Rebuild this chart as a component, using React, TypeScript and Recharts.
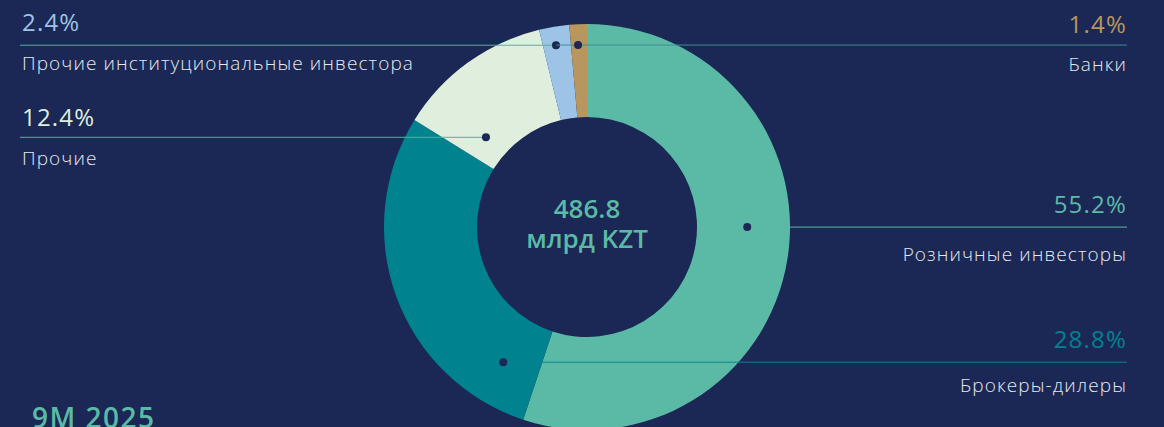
import React from "react";
import { PieChart, Pie, Cell } from "recharts";

// Shares of trading volume by investor type, 9M 2025
const categories = [
  "Розничные инвесторы",
  "Брокеры-дилеры",
  "Прочие",
  "Прочие институциональные инвестора",
  "Банки",
];
const shares = [55.2, 28.8, 12.4, 2.4, 1.4];
const shareLabels = ["55.2%", "28.8%", "12.4%", "2.4%", "1.4%"];
const totalLabel = ["486.8", "млрд KZT"];
const periodLabel = "9M 2025";

const COLORS = ["#5bbaa5", "#00838f", "#dfeedd", "#9dc3e6", "#b8965e"];
const LINE_COLORS = ["#5bbaa5", "#0a8591", "#4fb3a0", "#4fb3a0", "#3f8f93"];
const BG = "#1b2754";
const FONT = "'Open Sans', 'Noto Sans', sans-serif";

const W = 1164;
const H = 427;
const CX = 587;
const CY = 227;
const LEFT_X = 20;
const RIGHT_X = 1127;

// annotation layout: dot position inside its slice (f = along the arc, t = across the ring), text side
const labelLayout = [
  { f: 0.454, t: 0.54, side: "right", pctDy: -14, nameDy: 34, lead: 0 },
  { f: 0.13, t: 0.527, side: "right", pctDy: -14, nameDy: 30, lead: 0 },
  { f: 0.22, t: 0.27, side: "left", pctDy: -11, nameDy: 28, lead: 0 },
  { f: 0.46, t: 0.8, side: "left", pctDy: -14, nameDy: 25, lead: 0 },
  { f: 0.44, t: 0.776, side: "right", pctDy: -12, nameDy: 26, lead: 22 },
];

const data = categories.map((name, i) => ({ name, value: shares[i] }));

function renderLabel(props: any) {
  const { cx, cy, innerRadius, outerRadius, startAngle, endAngle, index } = props;
  const l = labelLayout[index];
  const ang = (startAngle + (endAngle - startAngle) * l.f) * (Math.PI / 180);
  const r = innerRadius + (outerRadius - innerRadius) * l.t;
  const dotX = cx + r * Math.cos(ang);
  const y = cy - r * Math.sin(ang);
  const isRight = l.side === "right";
  const x1 = isRight ? dotX - l.lead : LEFT_X;
  const x2 = isRight ? RIGHT_X : dotX;
  const textX = isRight ? RIGHT_X : LEFT_X + 2;
  const anchor = isRight ? "end" : "start";
  return (
    <g key={`lbl-${index}`}>
      <line x1={x1} y1={y} x2={x2} y2={y} stroke={LINE_COLORS[index]} strokeWidth={1} />
      <circle cx={dotX} cy={y} r={4} fill={BG} />
      <text
        x={textX}
        y={y + l.pctDy}
        textAnchor={anchor}
        fill={COLORS[index]}
        fontSize={24}
        letterSpacing={1.2}
        fontFamily={FONT}
        fontWeight={400}
      >
        {shareLabels[index]}
      </text>
      <text
        x={textX}
        y={y + l.nameDy}
        textAnchor={anchor}
        fill="#e6e9f0"
        fontSize={19}
        letterSpacing={1.1}
        fontFamily={FONT}
        fontWeight={300}
      >
        {categories[index]}
      </text>
    </g>
  );
}

export default function App() {
  return (
    <div
      style={{
        position: "absolute",
        left: 0,
        top: 0,
        width: W,
        height: H,
        background: BG,
        overflow: "hidden",
        fontFamily: FONT,
      }}
    >
      <PieChart width={W} height={H} margin={{ top: 0, right: 0, bottom: 0, left: 0 }}>
        <Pie
          data={data}
          dataKey="value"
          nameKey="name"
          cx={CX}
          cy={CY}
          innerRadius={110}
          outerRadius={203}
          startAngle={90}
          endAngle={-270}
          stroke="none"
          label={renderLabel}
          labelLine={false}
          isAnimationActive={false}
        >
          {data.map((_, i) => (
            <Cell key={i} fill={COLORS[i]} />
          ))}
        </Pie>
      </PieChart>
      <div
        style={{
          position: "absolute",
          left: CX - 100,
          top: CY - 34,
          width: 200,
          textAlign: "center",
          color: "#5bbaa5",
          fontSize: 26,
          fontWeight: 600,
          lineHeight: "30px",
        }}
      >
        <div>{totalLabel[0]}</div>
        <div>{totalLabel[1]}</div>
      </div>
      <div
        style={{
          position: "absolute",
          left: 32,
          top: 400,
          color: "#5bbaa5",
          fontSize: 28,
          fontWeight: 600,
          letterSpacing: 1.5,
          lineHeight: "34px",
          whiteSpace: "nowrap",
        }}
      >
        {periodLabel}
      </div>
    </div>
  );
}
